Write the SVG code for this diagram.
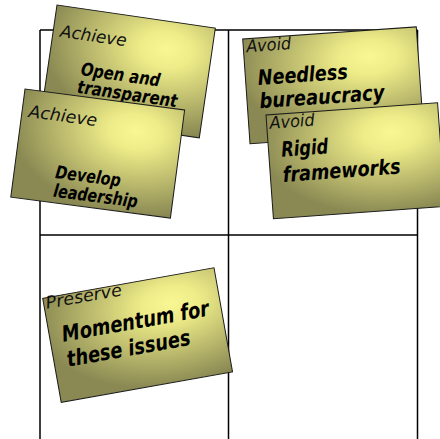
<svg xmlns="http://www.w3.org/2000/svg" width="440" height="439" viewBox="0 0 440 439">
<defs>
<radialGradient id="g" cx="0.7" cy="0.28" r="0.75" fx="0.72" fy="0.25">
<stop offset="0" stop-color="#f8f794"/>
<stop offset="0.22" stop-color="#eeec88"/>
<stop offset="1" stop-color="#8a8953"/>
</radialGradient>
<style>
.grid{stroke:#000;stroke-width:1.5;fill:none}
.note{fill:url(#g);stroke:#1a1a1a;stroke-width:1}
.tag{font-family:"DejaVu Sans",sans-serif;font-style:oblique;font-size:17px;fill:#111}
.txt{font-family:"DejaVu Sans",sans-serif;font-style:oblique;font-weight:bold;font-size:18px;fill:#000}
</style>
</defs>
<g id="grid">
<path class="grid" d="M40,30 H417.5 M40,235 H417.5 M40,30 V439 M417.5,30 V439"/>
<path class="grid" stroke-width="2" d="M228.5,30 V439"/>
</g>
<g id="note-open" transform="translate(57,5) rotate(8.3)">
<rect class="note" width="160" height="111"/>
<text class="tag" x="7" y="31" textLength="67" lengthAdjust="spacingAndGlyphs">Achieve</text>
<text class="txt" x="33" y="66" textLength="80" lengthAdjust="spacingAndGlyphs">Open and</text>
<text class="txt" x="32" y="84" textLength="101" lengthAdjust="spacingAndGlyphs">transparent</text>
</g>
<g id="note-develop" transform="translate(25,89) rotate(7.5)">
<rect class="note" width="161" height="109"/>
<text class="tag" x="6.7" y="27.4" textLength="69" lengthAdjust="spacingAndGlyphs">Achieve</text>
<text class="txt" x="41" y="84.3" textLength="66" lengthAdjust="spacingAndGlyphs">Develop</text>
<text class="txt" x="41.5" y="103" textLength="85" lengthAdjust="spacingAndGlyphs">leadership</text>
</g>
<g id="note-needless" transform="translate(242.7,39) rotate(-4)">
<rect class="note" width="174" height="105"/>
<text class="tag" x="3" y="13.5" textLength="45" lengthAdjust="spacingAndGlyphs">Avoid</text>
<text class="txt" style="font-size:21px" x="12.4" y="47" textLength="90" lengthAdjust="spacingAndGlyphs">Needless</text>
<text class="txt" style="font-size:21px" x="12.5" y="70.3" textLength="125" lengthAdjust="spacingAndGlyphs">bureaucracy</text>
</g>
<g id="note-rigid" transform="translate(266,115) rotate(-4.1)">
<rect class="note" width="172" height="104"/>
<text class="tag" x="3" y="14" textLength="45" lengthAdjust="spacingAndGlyphs">Avoid</text>
<text class="txt" style="font-size:21px" x="12.7" y="42.7" textLength="47" lengthAdjust="spacingAndGlyphs">Rigid</text>
<text class="txt" style="font-size:21px" x="12.4" y="68" textLength="118" lengthAdjust="spacingAndGlyphs">frameworks</text>
</g>
<g id="note-momentum" transform="translate(42.7,298.3) rotate(-10.1)">
<rect class="note" width="174" height="105.7"/>
<text class="tag" x="2.2" y="11" textLength="77" lengthAdjust="spacingAndGlyphs">Preserve</text>
<text class="txt" style="font-size:22px" x="12.7" y="46.3" textLength="149" lengthAdjust="spacingAndGlyphs">Momentum for</text>
<text class="txt" style="font-size:22px" x="13.2" y="71.8" textLength="125" lengthAdjust="spacingAndGlyphs">these issues</text>
</g>
</svg>
